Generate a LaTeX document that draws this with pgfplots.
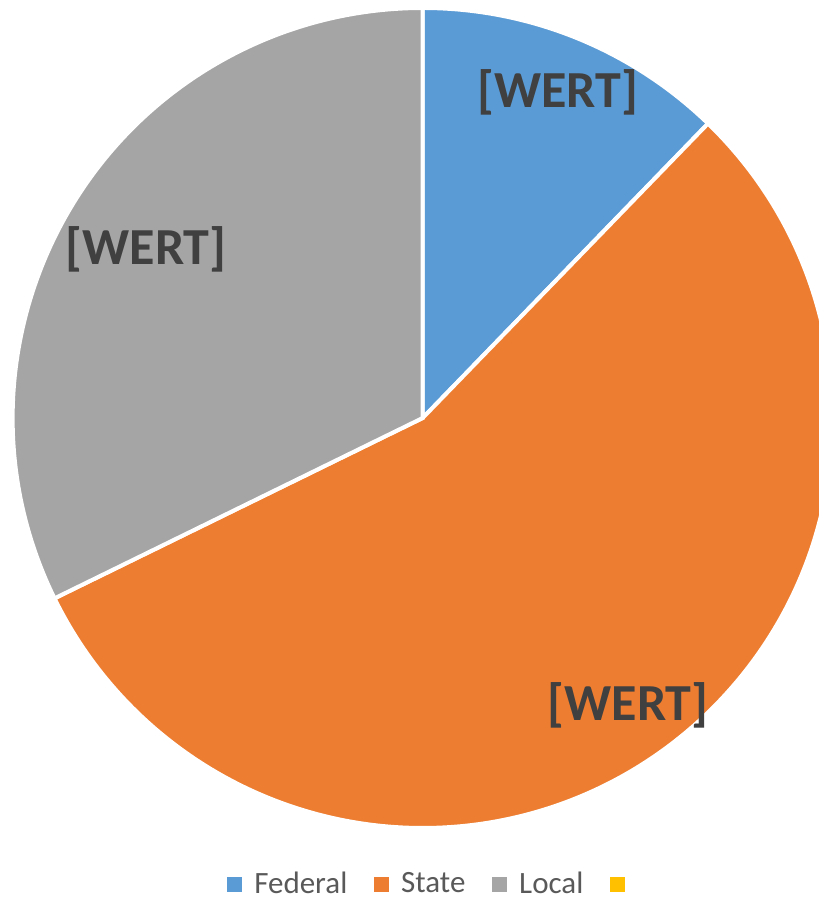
\documentclass[border=0pt]{standalone}
\usepackage{fontspec}
\setmainfont{Carlito}
\usepackage{pgfplots}
\usepackage{pgfplotstable}
\pgfplotsset{compat=1.18}
\definecolor{fedblue}{HTML}{5B9BD5}
\definecolor{stateorange}{HTML}{ED7D31}
\definecolor{localgray}{HTML}{A5A5A5}
\definecolor{emptyyellow}{HTML}{FFC000}
\definecolor{labelgray}{HTML}{404040}
\definecolor{textgray}{HTML}{595959}

% share in percent, wedge start/end angle (degrees, drawn clockwise from top)
\pgfplotstableread{
name    share x      y   start  end
Federal 12.25 211.35 240 90     45.9
State   55.50 211.35 240 45.9   -153.9
Local   32.25 211.35 240 -153.9 -270
}\piedata

\pgfdeclareplotmark{wedge}{%
  \pgfpathmoveto{\pgfpointorigin}%
  \pgfpathlineto{\pgfpointpolar{\sa}{205pt}}%
  \pgfpatharc{\sa}{\ea}{205pt}%
  \pgfpathclose
  \pgfusepathqfillstroke}

\pgfplotsset{pieslice/.style={only marks, mark=wedge,
  mark options={fill=#1, draw=white, line width=2pt},
  visualization depends on={\thisrow{start}\as\sa},
  visualization depends on={\thisrow{end}\as\ea},
  forget plot}}

\begin{document}
\begin{tikzpicture}
\begin{axis}[
  at={(0,0)}, anchor=south west,
  scale only axis, width=409pt, height=449pt,
  xmin=0, xmax=409, ymin=0, ymax=449,
  hide axis, clip=false,
  legend columns=4,
  legend style={at={(0.531,0.0155)}, anchor=center, draw=none, fill=none,
    font=\fontsize{15.5}{18}\selectfont, text=textgray,
    /tikz/every odd column/.append style={column sep=4pt},
    /tikz/every even column/.append style={column sep=11.5pt}},
  legend cell align=left,
]
\addplot[pieslice=fedblue, skip coords between index={1}{3}]
  table[x=x, y=y] {\piedata};
\addplot[pieslice=stateorange, skip coords between index={0}{1}, skip coords between index={2}{3}]
  table[x=x, y=y] {\piedata};
\addplot[pieslice=localgray, skip coords between index={0}{2}]
  table[x=x, y=y] {\piedata};

\addlegendimage{legend image code/.code={\fill[fedblue] (0pt,-3.5pt) rectangle (7pt,3.5pt);}}
\addlegendentry{Federal}
\addlegendimage{legend image code/.code={\fill[stateorange] (0pt,-3.5pt) rectangle (7pt,3.5pt);}}
\addlegendentry{State}
\addlegendimage{legend image code/.code={\fill[localgray] (0pt,-3.5pt) rectangle (7pt,3.5pt);}}
\addlegendentry{Local}
\addlegendimage{legend image code/.code={\fill[emptyyellow] (0pt,-3.5pt) rectangle (7pt,3.5pt);}}
\addlegendentry{\mbox{}}
\end{axis}
\begin{scope}[every node/.style={font=\bfseries\fontsize{26}{30}\selectfont, text=labelgray}]
\node at (278.75pt,403pt) {[WERT]};
\node at (314pt,96.5pt) {[WERT]};
\node at (73pt,324.5pt) {[WERT]};
\end{scope}
\pgfresetboundingbox
\path[use as bounding box] (0,0) rectangle (409pt,449pt);
\end{tikzpicture}
\end{document}
